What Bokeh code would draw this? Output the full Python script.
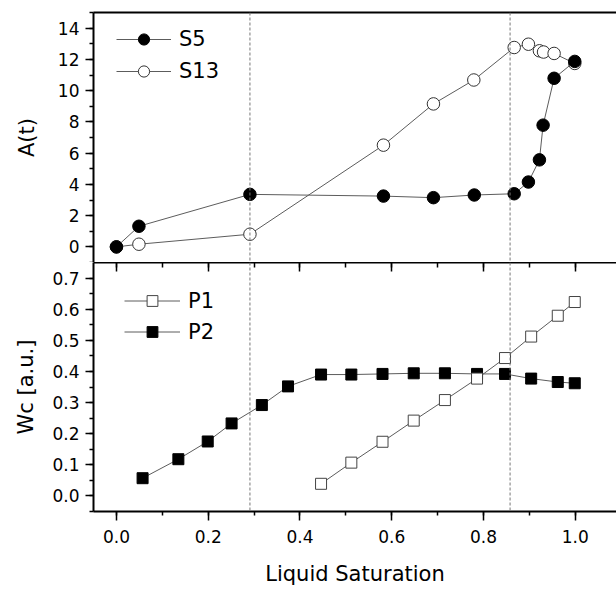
from bokeh.plotting import figure
from bokeh.layouts import column
from bokeh.models import (Range1d, LinearAxis, SingleIntervalTicker, PrintfTickFormatter,
                          FixedTicker, Span, Legend, LegendItem)
from bokeh.embed import file_html
from bokeh.resources import INLINE

# ---- data ----
sat_s5 = [0.0, 0.049, 0.291, 0.582, 0.691, 0.780, 0.867, 0.898, 0.922, 0.930, 0.954, 0.999]
a_s5 = [0.0, 1.32, 3.36, 3.25, 3.15, 3.32, 3.40, 4.15, 5.57, 7.79, 10.79, 11.87]
sat_s13 = [0.0, 0.049, 0.291, 0.582, 0.691, 0.779, 0.867, 0.898, 0.922, 0.931, 0.954, 0.999]
a_s13 = [0.0, 0.17, 0.81, 6.51, 9.15, 10.68, 12.76, 12.97, 12.55, 12.47, 12.38, 11.74]
sat_p1 = [0.446, 0.512, 0.580, 0.648, 0.716, 0.786, 0.847, 0.904, 0.962, 0.999]
wc_p1 = [0.039, 0.107, 0.174, 0.242, 0.308, 0.377, 0.443, 0.512, 0.579, 0.623]
sat_p2 = [0.057, 0.135, 0.199, 0.251, 0.317, 0.374, 0.446, 0.512, 0.580, 0.648,
          0.716, 0.786, 0.847, 0.904, 0.962, 0.999]
wc_p2 = [0.057, 0.118, 0.175, 0.233, 0.292, 0.352, 0.390, 0.390, 0.392, 0.394,
         0.394, 0.392, 0.392, 0.377, 0.366, 0.362]
transitions = [0.291, 0.858]

FONT = "DejaVu Sans"
LINE = "#5c5c5c"
XR = Range1d(-0.05, 1.09)


def style_common(p):
    p.outline_line_color = None
    p.xgrid.visible = False
    p.ygrid.visible = False
    p.background_fill_color = "white"
    p.border_fill_color = "white"


def style_yaxis(ax, ticker, fmt, label, standoff):
    ax.ticker = ticker
    ax.formatter = PrintfTickFormatter(format=fmt)
    ax.axis_label = label
    ax.axis_label_text_font = FONT
    ax.axis_label_text_font_size = "21px"
    ax.axis_label_text_font_style = "normal"
    ax.axis_label_text_color = "black"
    ax.axis_label_standoff = standoff
    ax.major_label_text_font = FONT
    ax.major_label_text_font_size = "17px"
    ax.major_label_text_color = "black"
    ax.major_label_standoff = 6
    ax.axis_line_width = 2
    ax.axis_line_color = "black"
    ax.major_tick_out = 8
    ax.major_tick_in = 0
    ax.minor_tick_out = 4
    ax.minor_tick_in = 0
    ax.major_tick_line_width = 1.5
    ax.minor_tick_line_width = 1.5
    ax.major_tick_line_color = "black"
    ax.minor_tick_line_color = "black"


# ---------------- top panel ----------------
p1 = figure(width=616, height=262, x_range=XR, y_range=Range1d(-1, 15),
            output_backend="svg", toolbar_location=None, x_axis_location=None,
            min_border_left=93, min_border_right=0, min_border_top=12, min_border_bottom=0)
style_common(p1)
style_yaxis(p1.yaxis[0], SingleIntervalTicker(interval=2, num_minor_ticks=2), "%d", "A(t)", 16)

top_border = LinearAxis(ticker=FixedTicker(ticks=[]), major_tick_line_color=None,
                        minor_tick_line_color=None, major_label_text_font_size="0px",
                        major_label_text_color=None, major_label_standoff=0,
                        major_tick_out=0, axis_line_width=2, axis_line_color="black")
p1.add_layout(top_border, "above")

for t in transitions:
    p1.add_layout(Span(location=t, dimension="height", line_color="#777777",
                       line_width=1, line_dash="3 2"))

l13 = p1.line(sat_s13, a_s13, line_color=LINE, line_width=1)
m13 = p1.scatter(sat_s13, a_s13, marker="circle", size=12.5, fill_color="white",
                 line_color="#333333", line_width=1)
l5 = p1.line(sat_s5, a_s5, line_color=LINE, line_width=1)
m5 = p1.scatter(sat_s5, a_s5, marker="circle", size=12.5, fill_color="black",
                line_color="black", line_width=1)

leg1 = Legend(items=[LegendItem(label="S5", renderers=[l5, m5]),
                     LegendItem(label="S13", renderers=[l13, m13])],
              location=(23, 177), background_fill_alpha=0, border_line_color=None,
              padding=0, margin=0, spacing=4, glyph_width=55, glyph_height=28,
              label_standoff=8, label_text_font=FONT, label_text_font_size="21px",
              label_text_color="black")
p1.add_layout(leg1)

# ---------------- bottom panel ----------------
p2 = figure(width=616, height=328, x_range=XR, y_range=Range1d(-0.05, 0.75),
            output_backend="svg", toolbar_location=None,
            min_border_left=93, min_border_right=0, min_border_top=0, min_border_bottom=79)
style_common(p2)
style_yaxis(p2.yaxis[0], SingleIntervalTicker(interval=0.1, num_minor_ticks=2), "%.1f",
            "Wc [a.u.]", 11)

xa = p2.xaxis[0]
xa.ticker = SingleIntervalTicker(interval=0.2, num_minor_ticks=2)
xa.formatter = PrintfTickFormatter(format="%.1f")
xa.axis_label = "Liquid Saturation"
xa.axis_label_text_font = FONT
xa.axis_label_text_font_size = "21px"
xa.axis_label_text_font_style = "normal"
xa.axis_label_text_color = "black"
xa.axis_label_standoff = 16
xa.major_label_text_font = FONT
xa.major_label_text_font_size = "17px"
xa.major_label_text_color = "black"
xa.major_label_standoff = 9
xa.axis_line_width = 2
xa.major_tick_out = 9
xa.major_tick_in = 0
xa.minor_tick_out = 4
xa.minor_tick_in = 0
xa.major_tick_line_width = 1.5
xa.minor_tick_line_width = 1.5

mid = LinearAxis(ticker=SingleIntervalTicker(interval=0.2, num_minor_ticks=2),
                 major_label_text_font_size="0px", major_label_text_color=None,
                 major_label_standoff=0,
                 major_tick_out=0, major_tick_in=9, minor_tick_out=0, minor_tick_in=5,
                 major_tick_line_width=1.5, minor_tick_line_width=1.5,
                 axis_line_width=2, axis_line_color="black")
p2.add_layout(mid, "above")

for t in transitions:
    p2.add_layout(Span(location=t, dimension="height", line_color="#777777",
                       line_width=1, line_dash="3 2"))

lp2 = p2.line(sat_p2, wc_p2, line_color=LINE, line_width=1)
mp2 = p2.scatter(sat_p2, wc_p2, marker="square", size=11, fill_color="black",
                 line_color="black", line_width=1)
lp1 = p2.line(sat_p1, wc_p1, line_color=LINE, line_width=1)
mp1 = p2.scatter(sat_p1, wc_p1, marker="square", size=11, fill_color="white",
                 line_color="#444444", line_width=1)

leg2 = Legend(items=[LegendItem(label="P1", renderers=[lp1, mp1]),
                     LegendItem(label="P2", renderers=[lp2, mp2])],
              location=(31, 166), background_fill_alpha=0, border_line_color=None,
              padding=0, margin=0, spacing=4, glyph_width=56, glyph_height=27,
              label_standoff=8, label_text_font=FONT, label_text_font_size="21px",
              label_text_color="black")
p2.add_layout(leg2)

layout = column(p1, p2, spacing=0)
open("out.html", "w").write(file_html(layout, INLINE))
